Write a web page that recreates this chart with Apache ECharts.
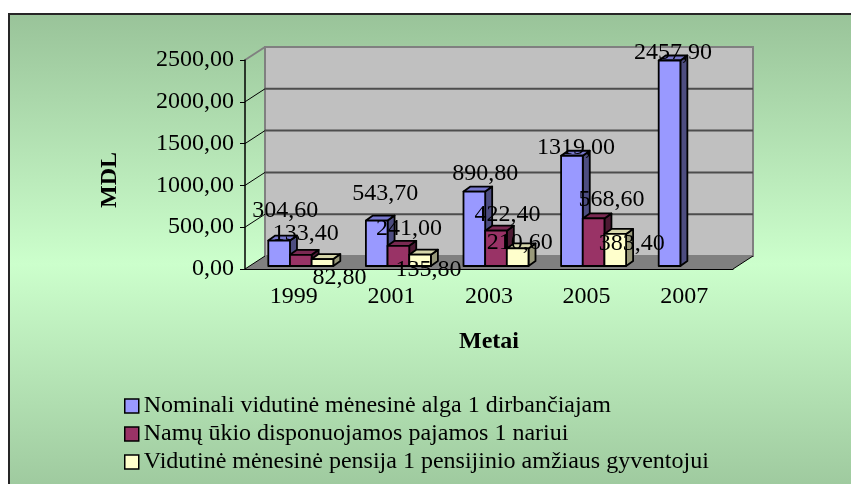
<!DOCTYPE html>
<html>
<head>
<meta charset="utf-8">
<script src="https://cdn.jsdelivr.net/npm/echarts@6/dist/echarts.min.js"></script>
<style>
  html, body { margin: 0; padding: 0; background: #fff; }
  #chart { width: 851px; height: 484px; }
</style>
</head>
<body>
<div id="chart"></div>
<script>
// data
const categories = ['1999', '2001', '2003', '2005', '2007'];
const seriesNames = [
  'Nominali vidutinė mėnesinė alga 1 dirbančiajam',
  'Namų ūkio disponuojamos pajamos 1 nariui',
  'Vidutinė mėnesinė pensija 1 pensijinio amžiaus gyventojui'
];
const wage = [304.6, 543.7, 890.8, 1319.0, 2457.9];
const income = [133.4, 241.0, 422.4, 568.6, null];
const pension = [82.8, 135.8, 210.6, 383.4, null];
const yTicks = [0, 500, 1000, 1500, 2000, 2500];

// look of the fake 3d
const FONT = '"Liberation Serif", "Times New Roman", serif';
const WALL_D = [20, -13];   // depth of the wall/floor
const BAR_D = [7, -5];      // depth of a bar
const BAR_SHIFT = [7, -3];  // bars sit a bit back on the floor
const BAR_FRAC = 0.222;
const colors = [
  { front: '#9999ff', top: '#7777cc', side: '#4d4d80' },
  { front: '#993366', top: '#7a2952', side: '#4d1a33' },
  { front: '#ffffcc', top: '#d6d6aa', side: '#99997a' }
];
// where Excel left each value label (relative to the bar's front top)
const labelNudge = [
  [[6, -30], [8.5, -27], [11, -18], [4, -8], [3.5, -8]],
  [[5, -21], [10.5, -17], [11.5, -16], [18, -19], null],
  [[17, 19], [8.5, 15], [2, -6], [16.5, 10], null]
];

const fmt = v => v.toFixed(2).replace('.', ',');

const chart = echarts.init(document.getElementById('chart'));

function frameRenderer(params, api) {
  const band = api.size([1, 0])[0];
  const x0 = api.coord([0, 0])[0] - band / 2;
  const x1 = api.coord([categories.length - 1, 0])[0] + band / 2;
  const y0 = api.coord([0, yTicks[0]])[1];
  const yTop = api.coord([0, yTicks[yTicks.length - 1]])[1];
  const [dx, dy] = WALL_D;
  const kids = [
    {
      type: 'rect', z2: 1,
      shape: { x: x0 + dx, y: yTop + dy, width: x1 - x0, height: y0 - yTop },
      style: { fill: '#c0c0c0', stroke: '#808080', lineWidth: 2 }
    },
    {
      type: 'polygon', z2: 2,
      shape: { points: [[x0, y0], [x1, y0], [x1 + dx, y0 + dy], [x0 + dx, y0 + dy]] },
      style: { fill: '#808080' }
    },
    {
      type: 'line', z2: 3,
      shape: { x1: x1, y1: y0, x2: x1 + dx, y2: y0 + dy },
      style: { stroke: '#000', lineWidth: 1 }
    }
  ];
  yTicks.forEach((t, i) => {
    const y = api.coord([0, t])[1];
    if (i > 0 && i < yTicks.length - 1) {
      kids.push({
        type: 'line', z2: 2,
        shape: { x1: x0 + dx, y1: y + dy, x2: x1 + dx, y2: y + dy },
        style: { stroke: '#4d4d4d', lineWidth: 2 }
      });
    }
    kids.push({
      type: 'line', z2: 3,
      shape: { x1: x0, y1: y, x2: x0 + dx, y2: y + dy },
      style: { stroke: i === yTicks.length - 1 ? '#808080' : '#000', lineWidth: i === yTicks.length - 1 ? 2 : 1 }
    });
  });
  return { type: 'group', children: kids };
}

function barRenderer(s) {
  return function (params, api) {
    const v = api.value(1);
    if (v == null || isNaN(v)) return;
    const cat = api.value(0);
    const band = api.size([1, 0])[0];
    const base = api.coord([cat, 0]);
    const topPt = api.coord([cat, v]);
    const w = band * BAR_FRAC;
    const left = base[0] - w * 1.5 + s * w + BAR_SHIFT[0];
    const right = left + w;
    const yb = base[1] + BAR_SHIFT[1];
    const yt = topPt[1] + BAR_SHIFT[1];
    const [dx, dy] = BAR_D;
    const c = colors[s];
    const edge = { stroke: '#000', lineWidth: 1.8, lineJoin: 'round' };
    const kids = [
      {
        type: 'polygon', z2: 10 + s,
        shape: { points: [[right, yt], [right + dx, yt + dy], [right + dx, yb + dy], [right, yb]] },
        style: Object.assign({ fill: c.side }, edge)
      },
      {
        type: 'polygon', z2: 10 + s,
        shape: { points: [[left, yt], [right, yt], [right + dx, yt + dy], [left + dx, yt + dy]] },
        style: Object.assign({ fill: c.top }, edge)
      },
      {
        type: 'rect', z2: 10 + s,
        shape: { x: left, y: yt, width: w, height: yb - yt },
        style: Object.assign({ fill: c.front }, edge)
      }
    ];
    const n = labelNudge[s][cat];
    if (n) {
      kids.push({
        type: 'text', z2: 100,
        x: left + w / 2 + n[0], y: yt + n[1],
        style: {
          text: fmt(v), fill: '#000', font: '24px ' + FONT,
          align: 'center', verticalAlign: 'middle'
        }
      });
    }
    return { type: 'group', children: kids };
  };
}

const seriesData = [wage, income, pension];

const options = {
  animation: false,
  backgroundColor: '#fff',
  graphic: [
    {
      type: 'rect', z: -10,
      shape: { x: 9, y: 14, width: 900, height: 500 },
      style: {
        fill: new echarts.graphic.LinearGradient(0, 0, 0, 1, [
          { offset: 0, color: '#99c399' },
          { offset: 0.5, color: '#ccffcc' },
          { offset: 1, color: '#99c399' }
        ]),
        stroke: '#262626', lineWidth: 2
      }
    },
    {
      type: 'text', z: 5,
      x: 110, y: 180, rotation: Math.PI / 2,
      style: {
        text: 'MDL', fill: '#000', font: 'bold 24px ' + FONT,
        align: 'center', verticalAlign: 'middle'
      }
    }
  ],
  grid: { left: 245, top: 60, width: 488, height: 209 },
  legend: {
    orient: 'vertical',
    left: 119, top: 389,
    itemGap: 4,
    itemWidth: 14, itemHeight: 14,
    icon: 'rect',
    itemStyle: { borderColor: '#000', borderWidth: 1.5 },
    textStyle: { fontFamily: FONT, fontSize: 24, color: '#000' },
    data: seriesNames
  },
  xAxis: {
    type: 'category',
    data: categories,
    z: 3,
    name: 'Metai',
    nameLocation: 'middle',
    nameGap: 61,
    nameTextStyle: { fontFamily: FONT, fontSize: 24, fontWeight: 'bold', color: '#000' },
    axisLine: { lineStyle: { color: '#000', width: 1 } },
    axisTick: { length: 6, lineStyle: { color: '#000' } },
    axisLabel: { margin: 16, fontFamily: FONT, fontSize: 24, color: '#000' },
    splitLine: { show: false }
  },
  yAxis: {
    type: 'value',
    min: yTicks[0],
    max: yTicks[yTicks.length - 1],
    interval: yTicks[1] - yTicks[0],
    z: 3,
    axisLine: { show: true, lineStyle: { color: '#000', width: 1.5 } },
    axisTick: { show: true, length: 5, lineStyle: { color: '#000' } },
    axisLabel: { margin: 11, fontFamily: FONT, fontSize: 24, color: '#000', formatter: fmt },
    splitLine: { show: false }
  },
  series: [
    {
      type: 'custom',
      name: 'frame',
      z: 1,
      silent: true,
      renderItem: frameRenderer,
      encode: { x: 0, y: 1 },
      data: [[0, 0]]
    }
  ].concat(seriesNames.map((name, s) => ({
    type: 'custom',
    name: name,
    z: 2,
    itemStyle: { color: colors[s].front },
    renderItem: barRenderer(s),
    encode: { x: 0, y: 1 },
    data: categories.map((c, i) => [i, seriesData[s][i]])
  })))
};

chart.setOption(options);
</script>
</body>
</html>
